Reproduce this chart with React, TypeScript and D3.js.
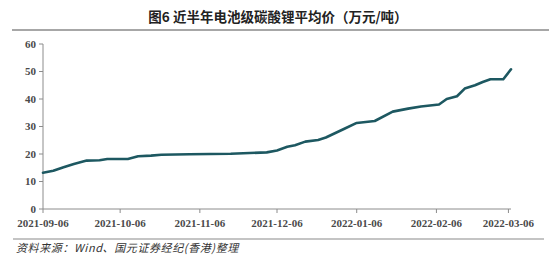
import React from "react";
import * as d3 from "d3";

const dates: string[] = [
  "2021-09-06", "2021-09-10", "2021-09-14", "2021-09-18", "2021-09-23", "2021-09-28",
  "2021-10-01", "2021-10-09", "2021-10-13", "2021-10-18", "2021-10-22", "2021-11-02",
  "2021-11-18", "2021-12-02", "2021-12-06", "2021-12-10", "2021-12-13", "2021-12-17",
  "2021-12-22", "2021-12-25", "2022-01-01", "2022-01-06", "2022-01-13", "2022-01-20",
  "2022-01-26", "2022-01-31", "2022-02-07", "2022-02-10", "2022-02-14", "2022-02-17",
  "2022-02-21", "2022-02-24", "2022-02-27", "2022-03-04", "2022-03-07",
];
const prices: number[] = [
  13.2, 13.9, 15.2, 16.4, 17.6, 17.7,
  18.2, 18.2, 19.2, 19.4, 19.7, 19.9,
  20.1, 20.6, 21.3, 22.6, 23.2, 24.5,
  25.1, 26.0, 29.1, 31.3, 32.0, 35.4,
  36.5, 37.3, 38.0, 40.0, 41.0, 43.8,
  45.0, 46.2, 47.2, 47.2, 50.8,
];
const xTickLabels: string[] = [
  "2021-09-06", "2021-10-06", "2021-11-06", "2021-12-06",
  "2022-01-06", "2022-02-06", "2022-03-06",
];
const yTicks: number[] = [0, 10, 20, 30, 40, 50, 60];
const title = "图6  近半年电池级碳酸锂平均价（万元/吨）";
const source = "资料来源：Wind、国元证券经纪(香港)整理";

const W = 554;
const H = 264;
const parse = d3.timeParse("%Y-%m-%d");

export default function App() {
  const x = d3
    .scaleTime()
    .domain([parse("2021-09-06") as Date, parse("2022-03-07") as Date])
    .range([43, 511]);
  const y = d3.scaleLinear().domain([0, 60]).range([209, 44]);
  const pts = dates.map((d, i) => ({ d: parse(d) as Date, v: prices[i] }));
  const line = d3
    .line<{ d: Date; v: number }>()
    .x((p) => x(p.d))
    .y((p) => y(p.v));
  const axisColor = "#8c8c8c";
  const labelColor = "#4a4a4a";
  const serif = "'Liberation Serif', 'DejaVu Serif', serif";
  const cjk = "'Noto Sans CJK SC', sans-serif";
  return (
    <svg
      width={W}
      height={H}
      style={{ position: "absolute", left: 0, top: 0, background: "#fff" }}
    >
      <text
        x={278}
        y={21.5}
        textAnchor="middle"
        fontFamily={cjk}
        fontWeight={700}
        fontSize={13.5}
        fill="#222"
      >
        {title}
      </text>
      <line x1={12} x2={549} y1={30} y2={30} stroke="#8a8a8a" strokeWidth={1.5} />

      {/* y axis */}
      <line x1={43} x2={43} y1={y(60)} y2={y(0)} stroke={axisColor} strokeWidth={1} />
      {yTicks.map((t) => (
        <g key={t}>
          <line x1={39} x2={43} y1={y(t)} y2={y(t)} stroke={axisColor} strokeWidth={1} />
          <text
            x={36}
            y={y(t)}
            dy="0.35em"
            textAnchor="end"
            fontFamily={serif}
            fontWeight={700}
            fontSize={11}
            fill={labelColor}
          >
            {t}
          </text>
        </g>
      ))}

      {/* x axis */}
      <line x1={43} x2={511} y1={y(0)} y2={y(0)} stroke={axisColor} strokeWidth={1} />
      {xTickLabels.map((t) => {
        const xx = x(parse(t) as Date);
        return (
          <g key={t}>
            <line x1={xx} x2={xx} y1={y(0)} y2={y(0) + 4} stroke={axisColor} strokeWidth={1} />
            <text
              x={xx}
              y={223}
              dy="0.35em"
              textAnchor="middle"
              fontFamily={serif}
              fontWeight={700}
              fontSize={11}
              fill={labelColor}
            >
              {t}
            </text>
          </g>
        );
      })}

      <path
        d={line(pts) || ""}
        fill="none"
        stroke="#1d5861"
        strokeWidth={2.6}
        strokeLinejoin="round"
        strokeLinecap="round"
      />

      <line x1={13} x2={544} y1={239} y2={239} stroke="#8a8a8a" strokeWidth={1.2} />
      <text
        x={16}
        y={252}
        fontFamily={cjk}
        fontStyle="italic"
        fontSize={11}
        fill="#333"
        letterSpacing={0.6}
      >
        {source}
      </text>
    </svg>
  );
}
